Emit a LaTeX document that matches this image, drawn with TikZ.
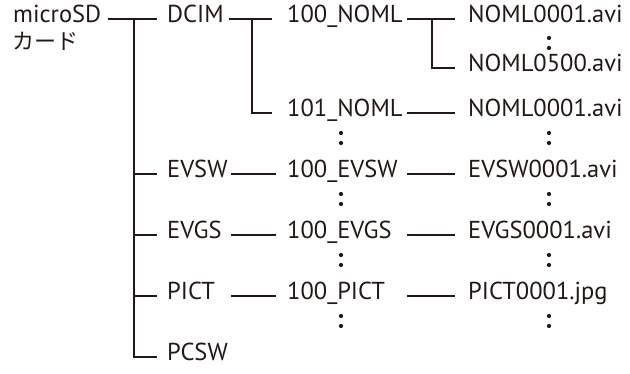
\documentclass[tikz,border=0pt]{standalone}
\usepackage{fontspec}
\setmainfont{PT Sans}
\newfontfamily\jpfont{Noto Sans CJK JP}
\usetikzlibrary{positioning}
\definecolor{ink}{RGB}{35,24,21}

\begin{document}
\begin{tikzpicture}[x=1pt, y=-1pt, font=\fontsize{24.5}{30}\selectfont, color=ink]
  % styles for the folder tree
  \tikzset{
    entry/.style={anchor=west, inner sep=0pt, text height=0.74em, text depth=0.1em},
    link/.style={line width=1.2pt}
  }
  \useasboundingbox (0,0) rectangle (630,374);

  % root
  \node[entry] (sd) at (13,19) {microSD};
  \node[entry, font=\jpfont\fontsize{22}{26}\selectfont] (sdjp) at (12,46) {カード};

  % first level folders
  \foreach \n/\t/\y in {dcim/DCIM/19, evsw/EVSW/174, evgs/EVGS/235,
                        pict/PICT/296, pcsw/PCSW/357}
    \node[entry] (\n) at (167,\y) {\t};

  % second level folders
  \foreach \n/\t/\y in {n100/100\_NOML/19, n101/101\_NOML/113, e100/100\_EVSW/174,
                        g100/100\_EVGS/235, p100/100\_PICT/296}
    \node[entry] (\n) at (287,\y) {\t};

  % files
  \foreach \n/\t/\y in {f1/NOML0001.avi/19, f2/NOML0500.avi/68, f3/NOML0001.avi/113,
                        f4/EVSW0001.avi/174, f5/EVGS0001.avi/235, f6/PICT0001.jpg/296}
    \node[entry] (\n) at (468,\y) {\t};

  % line columns
  \coordinate (trunk) at (134,19);
  \coordinate (c1) at (231,0);
  \coordinate (c2) at (407,0);

  % root -> first level
  \draw[link] ([xshift=7]sd.east) -- ([xshift=-10]dcim.west);
  \draw[link] (trunk) |- ([xshift=-10]pcsw.west);
  \foreach \n in {evsw,evgs,pict}
    \draw[link] (trunk |- \n) -- ([xshift=-10]\n.west);

  % first level -> second level
  \draw[link] ([xshift=5]dcim.east) -- ([xshift=-15]n100.west);
  \draw[link] ([xshift=-35]n100.west) |- ([xshift=-15]n101.west);
  \foreach \n/\m in {evsw/e100, evgs/g100, pict/p100}
    \draw[link] (\n -| c1) -- ([xshift=-11]\m.west);

  % second level -> files
  \draw[link] (n100 -| c2) -- ([xshift=-13]f1.west);
  \draw[link] ([xshift=-36]f1.west) |- ([xshift=-13]f2.west);
  \foreach \n/\m in {n101/f3, e100/f4, g100/f5, p100/f6}
    \draw[link] (\n -| c2) -- ([xshift=-13]\m.west);

  % vertical ellipsis dots
  \foreach \x/\y in {549/18, 341/113, 549/113, 341/174, 549/174,
                     341/235, 549/235, 341/296, 549/296}
    \fill (\x,\y+20) circle (2.1pt) (\x,\y+30) circle (2.1pt);
\end{tikzpicture}
\end{document}
